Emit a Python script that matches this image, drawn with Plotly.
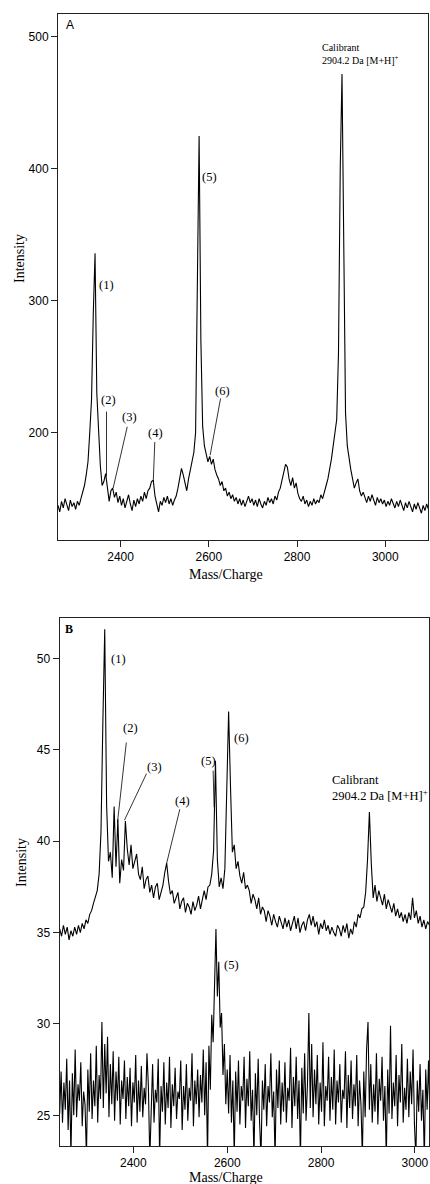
import plotly.graph_objects as go

# ---------------- data ----------------
# Panel A: spectrum sampled every 4 Da starting at 2258 Da
A_MASS_START = 2258
A_MASS_STEP = 4
A_INTENSITY = [
    145, 140, 148, 143, 150, 146, 141, 149, 144, 147,
    142, 148, 145, 150, 155, 160, 168, 178, 200, 225,
    290, 336, 230, 197, 175, 160, 163, 169, 158, 148,
    156, 158, 151, 155, 147, 152, 145, 150, 143, 148,
    153, 146, 141, 149, 144, 150, 146, 152, 148, 155,
    150, 156, 158, 163, 164, 152, 146, 140, 148, 145,
    151, 147, 152, 146, 150, 145, 149, 152, 158, 165,
    173, 168, 162, 156, 165, 172, 178, 185, 200, 330,
    425, 270, 205, 190, 183, 178, 182, 176, 180, 172,
    168, 165, 160, 163, 156, 158, 152, 155, 150, 153,
    148, 151, 146, 150, 145, 149, 144, 148, 152, 147,
    150, 145, 149, 144, 150, 146, 143, 148, 145, 151,
    147, 150, 146, 152, 149, 155, 158, 164, 170, 176,
    174, 165, 160, 166, 158, 162, 154, 150, 148, 152,
    146, 149, 144, 148, 145, 150, 146, 149, 147, 153,
    150, 156, 160, 165, 172, 180, 190, 200, 210, 260,
    400, 472, 340, 215, 190, 180, 172, 165, 158, 162,
    165, 156, 152, 155, 150, 147, 152, 148, 153, 149,
    145, 151, 147, 150, 146, 149, 144, 148, 145, 150,
    146, 143, 148, 144, 149, 145, 141, 147, 143, 148,
    144, 140, 146, 142, 147, 143, 139, 145, 141, 146,
    142,
]

# Panel B, upper trace: sampled every 4 Da starting at 2243 Da
B1_MASS_START = 2243
B1_MASS_STEP = 4
B1_INTENSITY = [
    35.2, 34.8, 35.4, 34.9, 35.3, 34.6, 35.1, 34.8, 35.3, 34.9,
    35.4, 35.0, 35.5, 35.2, 35.7, 35.5, 36.0, 36.2, 36.6, 36.9,
    37.3, 38.2, 40.5, 46.5, 51.6, 42.0, 38.9, 39.4, 38.0, 41.9,
    38.6, 41.2, 37.7, 39.0, 38.4, 41.1, 39.6, 38.7, 39.8, 38.5,
    38.9, 39.3, 38.2, 37.9, 38.6, 37.4, 37.9, 38.1, 37.2, 37.6,
    36.9, 37.5, 37.7, 36.8, 37.2, 37.6, 38.3, 38.8, 37.8, 37.1,
    37.3, 36.6, 36.9, 37.2, 36.3, 36.7, 36.9, 36.1, 36.6, 36.4,
    36.0, 36.7, 36.2, 36.5, 37.0, 36.3, 36.8, 37.3, 36.8, 37.5,
    37.6, 38.2, 39.5, 44.4, 39.0, 37.5, 38.0, 37.4, 38.5, 42.5,
    47.1, 43.0, 39.4, 39.8, 38.5, 38.9, 38.1, 37.7, 38.3, 37.4,
    37.6, 37.3, 36.6, 37.1, 36.8, 36.3, 36.9, 36.0, 36.4, 36.2,
    35.6, 36.2, 35.9, 35.4, 36.0, 35.6, 35.3, 35.9, 35.5, 35.2,
    35.8, 35.3, 35.7, 35.1, 35.5, 35.9, 35.2, 35.8, 35.0, 35.4,
    35.6, 35.1, 35.7, 36.0, 35.4, 35.9, 35.3, 35.6, 34.9, 35.5,
    35.2, 35.7, 35.1, 35.4, 34.9, 35.3, 35.0, 34.8, 35.4, 35.2,
    34.8, 35.4, 35.0, 35.5, 34.7, 35.2, 34.9, 35.6, 35.3, 36.0,
    35.8, 36.3, 36.4, 37.2, 39.0, 41.6, 38.8, 36.9, 37.6, 36.7,
    37.3, 36.9, 36.5, 37.1, 36.3, 36.8, 36.5, 36.1, 36.6, 35.9,
    36.3, 35.8, 36.1, 35.6, 36.0, 35.5, 36.1, 35.7, 36.9, 35.8,
    36.2, 35.5, 35.9, 35.3, 35.7, 35.2, 35.6, 35.4,
]

# Panel B, lower trace: sampled every 3 Da starting at 2243 Da
B2_MASS_START = 2243
B2_MASS_STEP = 3
B2_INTENSITY = [
    25.1, 27.4, 24.6, 26.8, 25.3, 28.1, 24.2, 26.9, 22.8, 27.3,
    25.0, 28.6, 24.9, 26.7, 25.8, 27.9, 24.4, 26.3, 25.6, 22.7,
    27.5, 25.2, 28.4, 24.8, 26.9, 25.5, 28.8, 24.6, 27.2, 25.9,
    30.1, 25.4, 28.9, 26.2, 29.3, 24.9, 27.8, 25.6, 28.5, 24.7,
    27.4, 25.8, 28.2, 24.5, 26.9, 25.9, 28.0, 24.8, 27.1, 25.5,
    27.6, 24.4, 26.8, 25.7, 28.3, 24.6, 26.9, 25.2, 27.7, 24.9,
    26.5, 25.6, 28.4, 26.6, 22.6, 25.3, 27.8, 24.6, 26.4, 25.7,
    28.1, 22.7, 26.6, 25.2, 27.9, 24.5, 26.8, 25.4, 28.2, 24.3,
    26.7, 25.5, 27.6, 24.8, 26.3, 25.9, 28.0, 24.2, 26.6, 25.3,
    27.8, 24.7, 26.5, 25.8, 28.4, 24.4, 26.9, 25.6, 27.5, 24.9,
    27.2, 25.7, 28.6, 25.0, 27.9, 22.6, 28.8, 26.4, 30.5, 29.0,
    33.0, 35.2, 31.5, 33.4, 29.8, 30.6, 27.2, 28.9, 25.6, 27.5,
    25.1, 28.3, 24.6, 26.9, 22.7, 27.4, 25.2, 28.0, 24.5, 26.6,
    25.8, 28.2, 24.3, 27.0, 25.5, 28.5, 24.7, 26.4, 22.6, 27.3,
    25.0, 28.1, 24.6, 22.7, 26.9, 25.3, 27.8, 24.4, 26.6, 25.7,
    28.4, 24.9, 26.3, 22.6, 27.5, 25.4, 28.0, 24.5, 26.8, 25.2,
    27.9, 24.6, 26.5, 25.8, 28.7, 24.3, 27.1, 25.5, 28.2, 24.8,
    26.9, 22.6, 27.6, 25.1, 28.4, 24.7, 26.7, 30.6, 25.4, 28.9,
    24.9, 27.5, 25.6, 28.3, 24.5, 26.8, 25.2, 29.0, 24.4, 26.6,
    25.8, 28.2, 24.7, 27.1, 25.3, 28.6, 24.5, 26.9, 25.7, 27.8,
    24.6, 26.4, 25.9, 28.5, 24.3, 27.2, 25.4, 28.0, 24.8, 26.7,
    25.5, 28.3, 24.4, 26.9, 25.6, 22.7, 27.4, 24.9, 28.6, 30.1,
    25.3, 27.8, 24.6, 26.7, 25.2, 28.4, 24.5, 27.0, 25.8, 28.2,
    24.7, 26.6, 22.6, 27.5, 25.1, 29.9, 24.8, 26.8, 25.5, 28.3,
    24.4, 27.2, 25.7, 28.9, 24.6, 26.5, 25.3, 28.1, 24.9, 27.4,
    25.6, 28.6, 24.5, 22.7, 26.9, 25.2, 27.8, 24.7, 26.4, 22.6,
    27.5, 25.3, 28.0, 24.8,
]

A_X_TICKS = [2400, 2600, 2800, 3000]
A_Y_TICKS = [200, 300, 400, 500]
B_X_TICKS = [2400, 2600, 2800, 3000]
B_Y_TICKS = [25, 30, 35, 40, 45, 50]

# peak labels: (text, x, y)
A_LABELS = [("(1)", 2368, 312), ("(2)", 2372, 225), ("(3)", 2421, 212),
            ("(4)", 2479, 200), ("(5)", 2602, 394), ("(6)", 2632, 232)]
A_LEADERS = [(2368, 216, 2368, 167), (2415, 204.5, 2383, 158),
             (2477.5, 193, 2474, 163), (2626.6, 226, 2603, 183)]
B_LABELS = [("(1)", 2368, 50.0), ("(2)", 2393, 46.2), ("(3)", 2444, 44.05),
            ("(4)", 2505, 42.2), ("(5)", 2560, 44.4), ("(6)", 2631, 45.66),
            ("(5)", 2609, 33.2)]
B_LEADERS = [(2385, 45.4, 2366, 41.0), (2428, 43.7, 2381, 41.15),
             (2499, 41.75, 2471, 38.8), (2570, 43.87, 2572, 41.86)]

# ---------------- figure ----------------
def grid(start, step, n):
    return [start + step * i for i in range(n)]

fig = go.Figure()
fig.add_trace(go.Scatter(x=grid(A_MASS_START, A_MASS_STEP, len(A_INTENSITY)), y=A_INTENSITY,
                         mode="lines", line=dict(color="black", width=1.1),
                         xaxis="x", yaxis="y", showlegend=False))
fig.add_trace(go.Scatter(x=grid(B1_MASS_START, B1_MASS_STEP, len(B1_INTENSITY)), y=B1_INTENSITY,
                         mode="lines", line=dict(color="black", width=1.1),
                         xaxis="x2", yaxis="y2", showlegend=False))
fig.add_trace(go.Scatter(x=grid(B2_MASS_START, B2_MASS_STEP, len(B2_INTENSITY)), y=B2_INTENSITY,
                         mode="lines", line=dict(color="black", width=1.1),
                         xaxis="x2", yaxis="y2", showlegend=False))

W, H = 430, 1184
tickfont = dict(family="Liberation Sans", size=12, color="black")
axcommon = dict(showline=True, linecolor="#222", linewidth=1, mirror=True,
                ticks="outside", ticklen=6, tickcolor="#222", tickwidth=1,
                showgrid=False, zeroline=False, tickfont=tickfont, automargin=False,
                ticklabeloverflow="allow")

fig.update_layout(
    width=W, height=H, margin=dict(l=0, r=0, t=0, b=0),
    paper_bgcolor="white", plot_bgcolor="white",
    xaxis=dict(domain=[58 / W, 428 / W], range=[2258, 3097], tickvals=A_X_TICKS,
               anchor="y", **axcommon),
    yaxis=dict(domain=[1 - 540 / H, 1 - 14 / H], range=[118.7, 517.4], tickvals=A_Y_TICKS,
               anchor="x", **axcommon),
    xaxis2=dict(domain=[59.5 / W, 429 / W], range=[2242.6, 3030], tickvals=B_X_TICKS,
                anchor="y2", **axcommon),
    yaxis2=dict(domain=[1 - 1146 / H, 1 - 618.3 / H], range=[23.32, 52.2], tickvals=B_Y_TICKS,
                anchor="x2", **axcommon),
)

serif = "Liberation Serif"
ann = []
for t, x, y in A_LABELS:
    ann.append(dict(text=t, x=x, y=y, xref="x", yref="y", showarrow=False,
                    xanchor="center", yanchor="middle",
                    font=dict(family=serif, size=12.5, color="black")))
for t, x, y in B_LABELS:
    ann.append(dict(text=t, x=x, y=y, xref="x2", yref="y2", showarrow=False,
                    xanchor="center", yanchor="middle",
                    font=dict(family=serif, size=12.5, color="black")))
ann.append(dict(text="Calibrant<br>2904.2 Da [M+H]<sup>+</sup>", x=2852, y=487,
                xref="x", yref="y", xanchor="left", yanchor="middle", align="left",
                showarrow=False, font=dict(family=serif, size=10, color="black")))
ann.append(dict(text="Calibrant<br>2904.2 Da [M+H]<sup>+</sup>", x=2819, y=42.9,
                xref="x2", yref="y2", xanchor="left", yanchor="middle", align="left",
                showarrow=False, font=dict(family=serif, size=12.5, color="black")))
ann.append(dict(text="A", x=2271.5, y=509, xref="x", yref="y", xanchor="left",
                yanchor="middle", showarrow=False,
                font=dict(family="Liberation Sans", size=12, color="black")))
ann.append(dict(text="<b>B</b>", x=2251, y=51.6, xref="x2", yref="y2", xanchor="left",
                yanchor="middle", showarrow=False,
                font=dict(family=serif, size=12, color="black")))
for yc in (574, 1177):
    ann.append(dict(text="Mass/Charge", x=226 / W, y=1 - yc / H, xref="paper", yref="paper",
                    xanchor="center", yanchor="middle", showarrow=False,
                    font=dict(family=serif, size=14, color="black")))
for xc, yc in ((19, 259), (21, 863)):
    ann.append(dict(text="Intensity", x=xc / W, y=1 - yc / H, xref="paper", yref="paper",
                    xanchor="center", yanchor="middle", textangle=-90, showarrow=False,
                    font=dict(family=serif, size=14, color="black")))

shapes = []
for x0, y0, x1, y1 in A_LEADERS:
    shapes.append(dict(type="line", x0=x0, y0=y0, x1=x1, y1=y1, xref="x", yref="y",
                       line=dict(color="black", width=0.8)))
for x0, y0, x1, y1 in B_LEADERS:
    shapes.append(dict(type="line", x0=x0, y0=y0, x1=x1, y1=y1, xref="x2", yref="y2",
                       line=dict(color="black", width=0.8)))

fig.update_layout(annotations=ann, shapes=shapes)
fig.write_html(
    "out.html",
    config={"displayModeBar": False},
    post_script="document.body.style.margin='0';document.body.style.padding='0';"
                "document.body.style.overflow='hidden';",
)
